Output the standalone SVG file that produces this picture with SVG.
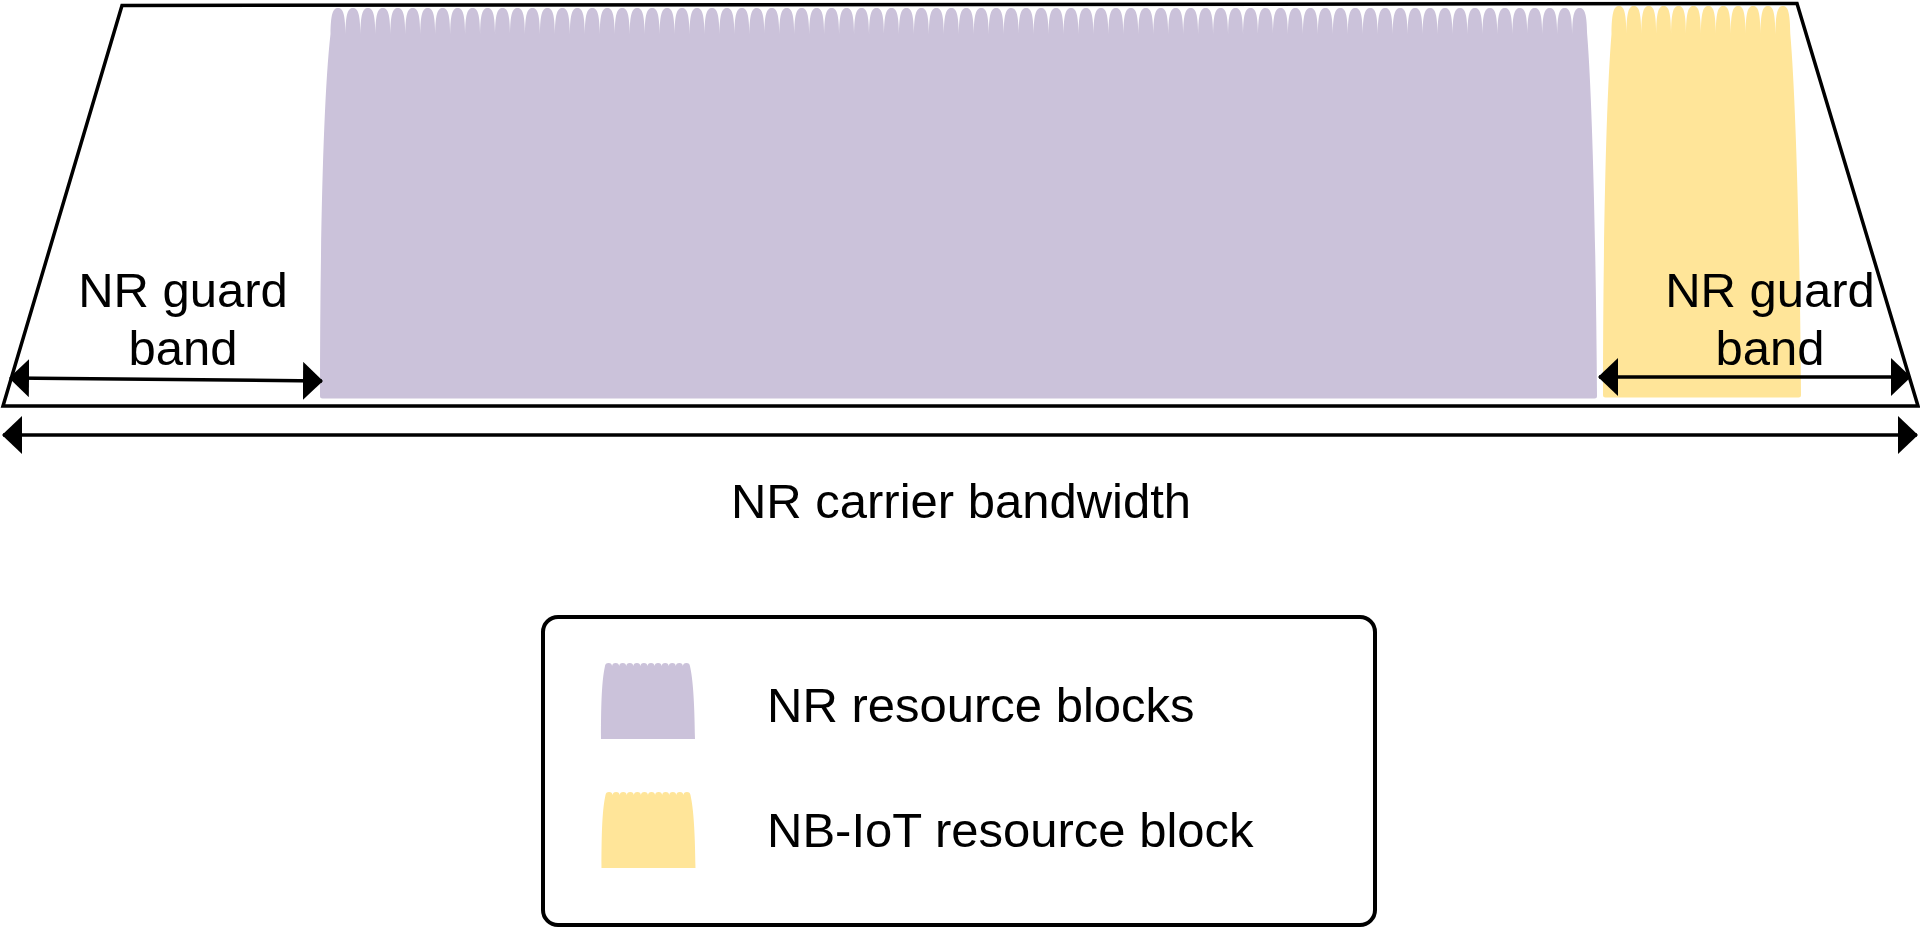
<svg xmlns="http://www.w3.org/2000/svg" xmlns:xlink="http://www.w3.org/1999/xlink" width="1920" height="929" viewBox="0 0 1920 929">
<style>
.txt{font-family:"Liberation Sans",Arial,sans-serif;font-size:49px;fill:#000}
.line{fill:none;stroke:#000;stroke-width:3.5}
.arrow{fill:none;stroke:#000;stroke-width:3.5;marker-start:url(#ah);marker-end:url(#ah)}
.nr{fill:#CBC2DA}
.nb{fill:#FFE599}
</style>
<defs>
<marker id="ah" markerUnits="userSpaceOnUse" markerWidth="20" markerHeight="38" refX="19" refY="19" orient="auto-start-reverse" viewBox="0 0 20 38">
<path d="M0,0 L20,19 L0,38 Z" fill="#000"/>
</marker>
<path id="swatch" d="M601,739 C601,700 602,680 605,666 c0.3,-2 1.2,-3 3.54,-3c2.34,0 3.24,1 3.54,3c0.3,-2 1.2,-3 3.54,-3c2.34,0 3.24,1 3.54,3c0.3,-2 1.2,-3 3.54,-3c2.34,0 3.24,1 3.54,3c0.3,-2 1.2,-3 3.54,-3c2.34,0 3.24,1 3.54,3c0.3,-2 1.2,-3 3.54,-3c2.34,0 3.24,1 3.54,3c0.3,-2 1.2,-3 3.54,-3c2.34,0 3.24,1 3.54,3c0.3,-2 1.2,-3 3.54,-3c2.34,0 3.24,1 3.54,3c0.3,-2 1.2,-3 3.54,-3c2.34,0 3.24,1 3.54,3c0.3,-2 1.2,-3 3.54,-3c2.34,0 3.24,1 3.54,3c0.3,-2 1.2,-3 3.54,-3c2.34,0 3.24,1 3.54,3c0.3,-2 1.2,-3 3.54,-3c2.34,0 3.24,1 3.54,3c0.3,-2 1.2,-3 3.54,-3c2.34,0 3.24,1 3.54,3 C693,680 694.5,700 695,739 Z"/>
</defs>

<g id="carrier">
<polygon class="line" points="122,5.5 1797,3.5 1918,406 3,406"/>
</g>

<g id="nr-resource-blocks">
<path class="nr" d="M320,396 C320,250 323,100 330.5,34
c0.3,-19 2,-26 7.48,-26c5.48,0 7.18,7 7.48,26c0.3,-19 2,-26 7.48,-26c5.48,0 7.18,7 7.48,26c0.3,-19 2,-26 7.48,-26c5.48,0 7.18,7 7.48,26c0.3,-19 2,-26 7.48,-26c5.48,0 7.18,7 7.48,26c0.3,-19 2,-26 7.48,-26c5.48,0 7.18,7 7.48,26c0.3,-19 2,-26 7.48,-26c5.48,0 7.18,7 7.48,26c0.3,-19 2,-26 7.48,-26c5.48,0 7.18,7 7.48,26c0.3,-19 2,-26 7.48,-26c5.48,0 7.18,7 7.48,26c0.3,-19 2,-26 7.48,-26c5.48,0 7.18,7 7.48,26c0.3,-19 2,-26 7.48,-26c5.48,0 7.18,7 7.48,26c0.3,-19 2,-26 7.48,-26c5.48,0 7.18,7 7.48,26c0.3,-19 2,-26 7.48,-26c5.48,0 7.18,7 7.48,26
c0.3,-19 2,-26 7.48,-26c5.48,0 7.18,7 7.48,26c0.3,-19 2,-26 7.48,-26c5.48,0 7.18,7 7.48,26c0.3,-19 2,-26 7.48,-26c5.48,0 7.18,7 7.48,26c0.3,-19 2,-26 7.48,-26c5.48,0 7.18,7 7.48,26c0.3,-19 2,-26 7.48,-26c5.48,0 7.18,7 7.48,26c0.3,-19 2,-26 7.48,-26c5.48,0 7.18,7 7.48,26c0.3,-19 2,-26 7.48,-26c5.48,0 7.18,7 7.48,26c0.3,-19 2,-26 7.48,-26c5.48,0 7.18,7 7.48,26c0.3,-19 2,-26 7.48,-26c5.48,0 7.18,7 7.48,26c0.3,-19 2,-26 7.48,-26c5.48,0 7.18,7 7.48,26c0.3,-19 2,-26 7.48,-26c5.48,0 7.18,7 7.48,26c0.3,-19 2,-26 7.48,-26c5.48,0 7.18,7 7.48,26
c0.3,-19 2,-26 7.48,-26c5.48,0 7.18,7 7.48,26c0.3,-19 2,-26 7.48,-26c5.48,0 7.18,7 7.48,26c0.3,-19 2,-26 7.48,-26c5.48,0 7.18,7 7.48,26c0.3,-19 2,-26 7.48,-26c5.48,0 7.18,7 7.48,26c0.3,-19 2,-26 7.48,-26c5.48,0 7.18,7 7.48,26c0.3,-19 2,-26 7.48,-26c5.48,0 7.18,7 7.48,26c0.3,-19 2,-26 7.48,-26c5.48,0 7.18,7 7.48,26c0.3,-19 2,-26 7.48,-26c5.48,0 7.18,7 7.48,26c0.3,-19 2,-26 7.48,-26c5.48,0 7.18,7 7.48,26c0.3,-19 2,-26 7.48,-26c5.48,0 7.18,7 7.48,26c0.3,-19 2,-26 7.48,-26c5.48,0 7.18,7 7.48,26c0.3,-19 2,-26 7.48,-26c5.48,0 7.18,7 7.48,26
c0.3,-19 2,-26 7.48,-26c5.48,0 7.18,7 7.48,26c0.3,-19 2,-26 7.48,-26c5.48,0 7.18,7 7.48,26c0.3,-19 2,-26 7.48,-26c5.48,0 7.18,7 7.48,26c0.3,-19 2,-26 7.48,-26c5.48,0 7.18,7 7.48,26c0.3,-19 2,-26 7.48,-26c5.48,0 7.18,7 7.48,26c0.3,-19 2,-26 7.48,-26c5.48,0 7.18,7 7.48,26c0.3,-19 2,-26 7.48,-26c5.48,0 7.18,7 7.48,26c0.3,-19 2,-26 7.48,-26c5.48,0 7.18,7 7.48,26c0.3,-19 2,-26 7.48,-26c5.48,0 7.18,7 7.48,26c0.3,-19 2,-26 7.48,-26c5.48,0 7.18,7 7.48,26c0.3,-19 2,-26 7.48,-26c5.48,0 7.18,7 7.48,26c0.3,-19 2,-26 7.48,-26c5.48,0 7.18,7 7.48,26
c0.3,-19 2,-26 7.48,-26c5.48,0 7.18,7 7.48,26c0.3,-19 2,-26 7.48,-26c5.48,0 7.18,7 7.48,26c0.3,-19 2,-26 7.48,-26c5.48,0 7.18,7 7.48,26c0.3,-19 2,-26 7.48,-26c5.48,0 7.18,7 7.48,26c0.3,-19 2,-26 7.48,-26c5.48,0 7.18,7 7.48,26c0.3,-19 2,-26 7.48,-26c5.48,0 7.18,7 7.48,26c0.3,-19 2,-26 7.48,-26c5.48,0 7.18,7 7.48,26c0.3,-19 2,-26 7.48,-26c5.48,0 7.18,7 7.48,26c0.3,-19 2,-26 7.48,-26c5.48,0 7.18,7 7.48,26c0.3,-19 2,-26 7.48,-26c5.48,0 7.18,7 7.48,26c0.3,-19 2,-26 7.48,-26c5.48,0 7.18,7 7.48,26c0.3,-19 2,-26 7.48,-26c5.48,0 7.18,7 7.48,26
c0.3,-19 2,-26 7.48,-26c5.48,0 7.18,7 7.48,26c0.3,-19 2,-26 7.48,-26c5.48,0 7.18,7 7.48,26c0.3,-19 2,-26 7.48,-26c5.48,0 7.18,7 7.48,26c0.3,-19 2,-26 7.48,-26c5.48,0 7.18,7 7.48,26c0.3,-19 2,-26 7.48,-26c5.48,0 7.18,7 7.48,26c0.3,-19 2,-26 7.48,-26c5.48,0 7.18,7 7.48,26c0.3,-19 2,-26 7.48,-26c5.48,0 7.18,7 7.48,26c0.3,-19 2,-26 7.48,-26c5.48,0 7.18,7 7.48,26c0.3,-19 2,-26 7.48,-26c5.48,0 7.18,7 7.48,26c0.3,-19 2,-26 7.48,-26c5.48,0 7.18,7 7.48,26c0.3,-19 2,-26 7.48,-26c5.48,0 7.18,7 7.48,26c0.3,-19 2,-26 7.48,-26c5.48,0 7.18,7 7.48,26
c0.3,-19 2,-26 7.48,-26c5.48,0 7.18,7 7.48,26c0.3,-19 2,-26 7.48,-26c5.48,0 7.18,7 7.48,26c0.3,-19 2,-26 7.48,-26c5.48,0 7.18,7 7.48,26c0.3,-19 2,-26 7.48,-26c5.48,0 7.18,7 7.48,26c0.3,-19 2,-26 7.48,-26c5.48,0 7.18,7 7.48,26c0.3,-19 2,-26 7.48,-26c5.48,0 7.18,7 7.48,26c0.3,-19 2,-26 7.48,-26c5.48,0 7.18,7 7.48,26c0.3,-19 2,-26 7.48,-26c5.48,0 7.18,7 7.48,26c0.3,-19 2,-26 7.48,-26c5.48,0 7.18,7 7.48,26c0.3,-19 2,-26 7.48,-26c5.48,0 7.18,7 7.48,26c0.3,-19 2,-26 7.48,-26c5.48,0 7.18,7 7.48,26c0.3,-19 2,-26 7.48,-26c5.48,0 7.18,7 7.48,26
C1592.5,100 1596,250 1597,396 Q1597,398.5 1594.5,398.5 L322.5,398.5 Q320,398.5 320,396 Z"/>
</g>

<g id="nbiot-resource-block">
<path class="nb" d="M1603,395 C1603,250 1606,100 1611.5,34
c0.3,-21 2,-28 7.45,-28c5.45,0 7.15,7 7.45,28c0.3,-21 2,-28 7.45,-28c5.45,0 7.15,7 7.45,28c0.3,-21 2,-28 7.45,-28c5.45,0 7.15,7 7.45,28c0.3,-21 2,-28 7.45,-28c5.45,0 7.15,7 7.45,28c0.3,-21 2,-28 7.45,-28c5.45,0 7.15,7 7.45,28c0.3,-21 2,-28 7.45,-28c5.45,0 7.15,7 7.45,28c0.3,-21 2,-28 7.45,-28c5.45,0 7.15,7 7.45,28c0.3,-21 2,-28 7.45,-28c5.45,0 7.15,7 7.45,28c0.3,-21 2,-28 7.45,-28c5.45,0 7.15,7 7.45,28c0.3,-21 2,-28 7.45,-28c5.45,0 7.15,7 7.45,28c0.3,-21 2,-28 7.45,-28c5.45,0 7.15,7 7.45,28c0.3,-21 2,-28 7.45,-28c5.45,0 7.15,7 7.45,28
C1796,100 1800,250 1801,395 Q1801,397.5 1798.5,397.5 L1605.5,397.5 Q1603,397.5 1603,395 Z"/>
</g>

<g id="connectors">
<line class="arrow" x1="10" y1="378" x2="322" y2="381"/>
<line class="arrow" x1="1599" y1="377" x2="1910" y2="377"/>
<line class="arrow" x1="3" y1="435" x2="1917" y2="435"/>
</g>

<g id="label-left-guard">
<text class="txt" x="183" y="307" text-anchor="middle">NR guard</text>
<text class="txt" x="183" y="365" text-anchor="middle">band</text>
</g>
<g id="label-right-guard">
<text class="txt" x="1770" y="307" text-anchor="middle">NR guard</text>
<text class="txt" x="1770" y="365" text-anchor="middle">band</text>
</g>
<g id="label-carrier">
<text class="txt" x="961" y="518" text-anchor="middle">NR carrier bandwidth</text>
</g>

<g id="legend">
<rect x="543" y="617" width="832" height="308" rx="15" ry="15" fill="#fff" stroke="#000" stroke-width="4"/>
<use xlink:href="#swatch" class="nr"/>
<use xlink:href="#swatch" class="nb" transform="translate(0.5,129)"/>
<text class="txt" x="767" y="722">NR resource blocks</text>
<text class="txt" x="767" y="847">NB-IoT resource block</text>
</g>
</svg>
